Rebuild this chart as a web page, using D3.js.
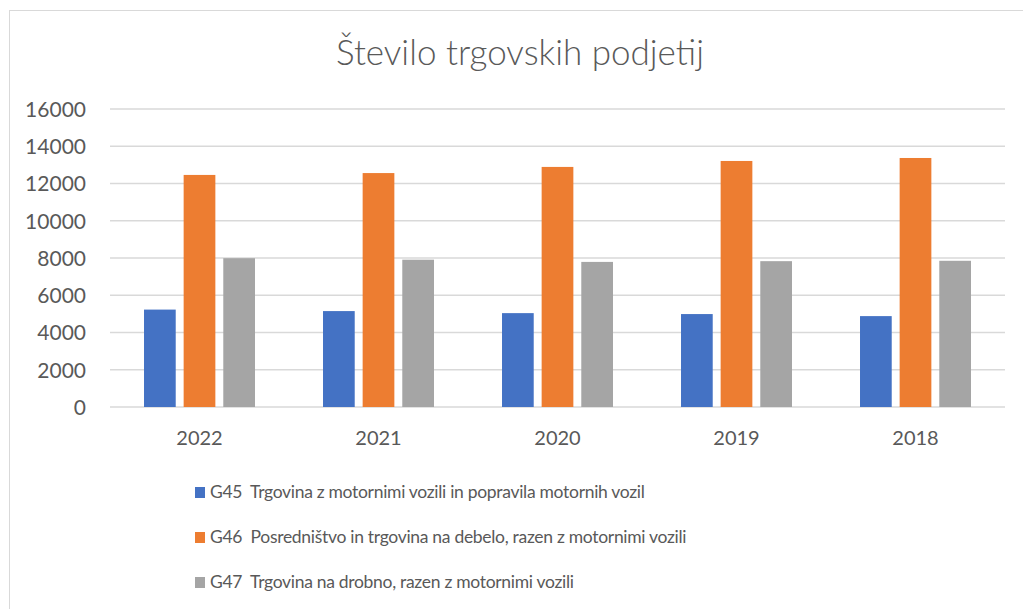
<!DOCTYPE html>
<html>
<head>
<meta charset="utf-8">
<script src="https://cdn.jsdelivr.net/npm/d3@7"></script>
<style>
  body { margin: 0; background: #fff; }
  text { font-family: Lato, "Open Sans", sans-serif; fill: #595959; }
</style>
</head>
<body>
<script>
    //data
    var years = ["2022", "2021", "2020", "2019", "2018"];
    var g45 = [5230, 5150, 5040, 4990, 4880];
    var g46 = [12460, 12560, 12890, 13210, 13370];
    var g47 = [7990, 7910, 7790, 7830, 7850];
    var seriesNames = [
        "G45  Trgovina z motornimi vozili in popravila motornih vozil",
        "G46  Posredništvo in trgovina na debelo, razen z motornimi vozili",
        "G47  Trgovina na drobno, razen z motornimi vozili"
    ];
    var yTicks = [0, 2000, 4000, 6000, 8000, 10000, 12000, 14000, 16000];
    var colors = ["#4472C4", "#ED7D31", "#A5A5A5"];

    var series = [g45, g46, g47];

    var width = 1023;
    var height = 609;

    //plot area
    var plot = { left: 110, right: 1005, top: 109, bottom: 407 };

    var svg = d3.select("body")
        .append("svg")
        .attr("width", width)
        .attr("height", height);

    //chart border
    svg.append("rect")
        .attr("x", 9.5)
        .attr("y", 10.5)
        .attr("width", 1040)
        .attr("height", 640)
        .attr("fill", "none")
        .attr("stroke", "#d9d9d9")
        .attr("stroke-width", 1);

    //title
    svg.append("text")
        .attr("x", 520)
        .attr("y", 65)
        .attr("text-anchor", "middle")
        .style("font-size", "35px")
        .style("font-weight", 300)
        .text("Število trgovskih podjetij");

    //scales
    var yScale = d3.scaleLinear()
        .domain([0, 16000])
        .range([plot.bottom, plot.top]);

    var x0 = d3.scaleBand()
        .domain(years)
        .range([plot.left, plot.right])
        .paddingInner(0.38)
        .paddingOuter(0.19);

    var x1 = d3.scaleBand()
        .domain([0, 1, 2])
        .range([0, x0.bandwidth()])
        .paddingInner(0.2)
        .paddingOuter(0);

    //gridlines
    svg.append("g")
        .selectAll("line")
        .data(yTicks)
        .enter()
        .append("line")
        .attr("x1", plot.left)
        .attr("x2", plot.right)
        .attr("y1", function (d) { return yScale(d); })
        .attr("y2", function (d) { return yScale(d); })
        .attr("stroke", "#d9d9d9")
        .attr("stroke-width", 1.5);

    //y axis
    var yAxis = d3.axisLeft(yScale)
        .tickValues(yTicks)
        .tickSize(0)
        .tickPadding(0)
        .tickFormat(d3.format("d"));

    var yg = svg.append("g")
        .attr("transform", "translate(86,0)")
        .call(yAxis);
    yg.select(".domain").remove();
    yg.selectAll("text")
        .style("font-size", "21px")
        .style("fill", "#595959")
        .attr("dy", "0.35em");

    //bars
    var groups = svg.append("g")
        .selectAll("g")
        .data(years)
        .enter()
        .append("g")
        .attr("transform", function (d) { return "translate(" + x0(d) + ",0)"; });

    groups.selectAll("rect")
        .data(function (d, i) {
            return series.map(function (s, k) { return { k: k, v: s[i] }; });
        })
        .enter()
        .append("rect")
        .attr("x", function (d) { return x1(d.k); })
        .attr("y", function (d) { return yScale(d.v); })
        .attr("width", x1.bandwidth())
        .attr("height", function (d) { return plot.bottom - yScale(d.v); })
        .attr("fill", function (d) { return colors[d.k]; });

    //x axis
    var xAxis = d3.axisBottom(x0)
        .tickSize(0)
        .tickPadding(0);

    var xg = svg.append("g")
        .attr("transform", "translate(0," + (plot.bottom + 24) + ")")
        .call(xAxis);
    xg.select(".domain").remove();
    xg.selectAll("text")
        .style("font-size", "20px")
        .style("fill", "#595959")
        .attr("dy", "0.7em");

    //legend
    var legend = svg.append("g")
        .selectAll("g")
        .data(seriesNames)
        .enter()
        .append("g")
        .attr("transform", function (d, i) { return "translate(195," + (492 + i * 45) + ")"; });

    legend.append("rect")
        .attr("x", 0)
        .attr("y", -5)
        .attr("width", 10)
        .attr("height", 11)
        .attr("fill", function (d, i) { return colors[i]; });

    legend.append("text")
        .attr("x", 15)
        .attr("y", 0)
        .attr("dy", "0.35em")
        .style("font-size", "17.5px")
        .style("letter-spacing", "-0.3px")
        .style("white-space", "pre")
        .attr("xml:space", "preserve")
        .text(function (d) { return d; });
</script>
</body>
</html>
